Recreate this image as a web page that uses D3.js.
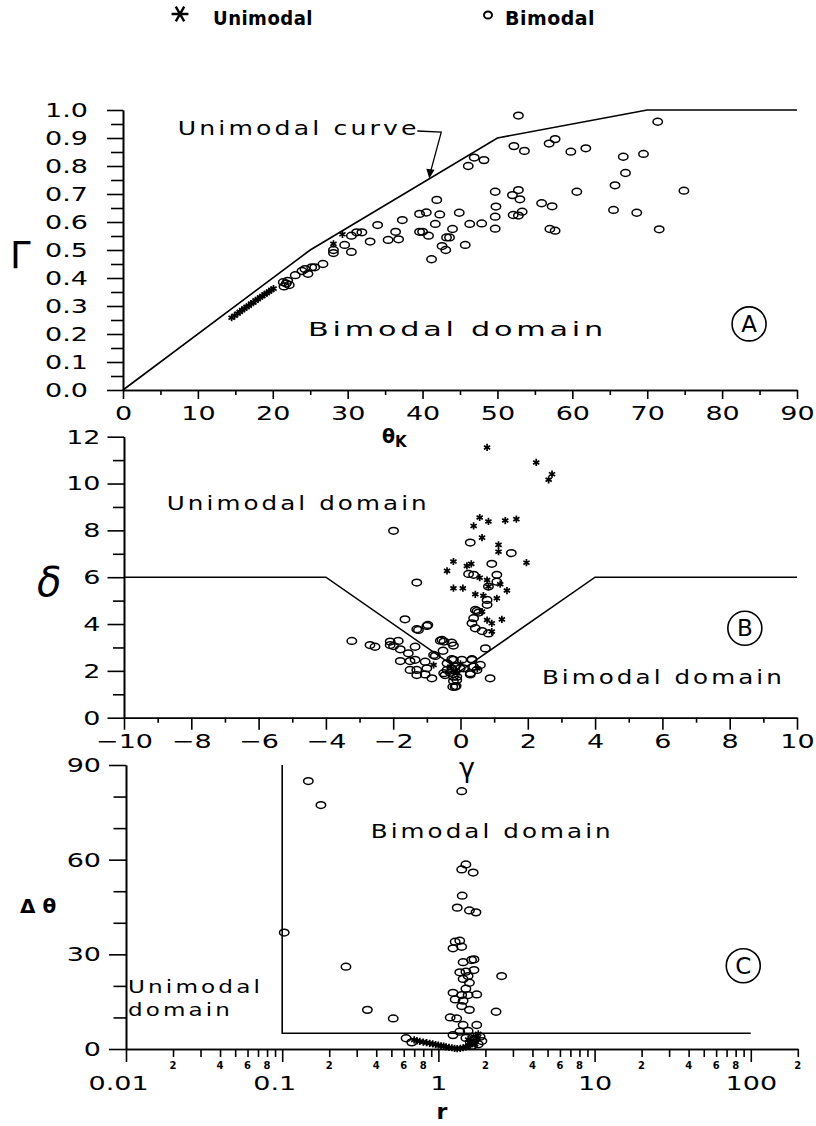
<!DOCTYPE html>
<html>
<head>
<meta charset="utf-8">
<script src="https://cdn.jsdelivr.net/npm/d3@7"></script>
<style>
body{margin:0;background:#fff;}
svg{display:block;}
text{font-family:"DejaVu Sans",sans-serif;fill:#000;}
</style>
</head>
<body>
<div id="chart"></div>
<script>
// ---------- data ----------
// Panel A: theta_K vs Gamma
var thetaTicks=[0,10,20,30,40,50,60,70,80,90];
var thetaMinor=[5,15,25,35,45,55,65,75,85];
var gammaTicks=[0,0.1,0.2,0.3,0.4,0.5,0.6,0.7,0.8,0.9,1.0];
var gammaMinor=[0.05,0.15,0.25,0.35,0.45,0.55,0.65,0.75,0.85,0.95];
var curveA=[[0,0],[25,0.5],[50,0.9],[70,1.0],[90,1.0]];
var starsA=[[14.5,0.258],[14.9,0.265],[15.3,0.273],[15.6,0.279],[15.9,0.286],[16.2,0.29],[16.5,0.297],[16.8,0.301],[17.1,0.309],[17.4,0.312],[17.7,0.32],[18.0,0.324],[18.3,0.331],[18.6,0.335],[18.9,0.342],[19.2,0.346],[19.5,0.352],[19.8,0.357],[20.1,0.362],[28.1,0.522],[29.3,0.556]];
var circlesA=[[21.4,0.385],[21.5,0.37],[21.8,0.38],[22.0,0.39],[22.2,0.375],[23.0,0.41],[23.9,0.425],[24.3,0.432],[24.7,0.415],[25.2,0.438],[25.6,0.438],[26.7,0.45],
[28.1,0.5],[28.1,0.489],[29.6,0.518],[30.5,0.551],[30.5,0.493],[31.2,0.563],[31.9,0.563],[33.0,0.53],[34.0,0.589],[35.4,0.536],[36.4,0.565],[36.8,0.538],[37.3,0.607],[39.6,0.629],[39.6,0.565],
[40.5,0.634],[42.3,0.627],[41.9,0.679],[44.9,0.633],[41.7,0.593],[44.0,0.575],[40.0,0.565],[40.8,0.551],[43.2,0.545],[43.6,0.545],[42.6,0.514],[43.1,0.5],[41.2,0.467],[45.7,0.518],[46.3,0.593],[47.9,0.595],
[46.1,0.8],[46.9,0.83],[48.2,0.821],[49.7,0.708],[49.8,0.655],[49.7,0.619],[49.7,0.576],[52.8,0.98],[52.2,0.871],[53.6,0.854],[52.0,0.696],[52.8,0.714],[53.0,0.681],[52.1,0.625],[52.8,0.623],[53.3,0.637],
[56.9,0.88],[57.7,0.896],[59.8,0.851],[61.8,0.863],[55.9,0.667],[57.3,0.656],[57.0,0.575],[57.7,0.569],[60.6,0.708],[65.7,0.731],[65.5,0.643],[66.8,0.833],[67.1,0.775],[68.6,0.633],[69.5,0.843],[71.4,0.958],[71.6,0.574],[74.9,0.712]];

// Panel B: gamma vs delta
var gTicks=[-10,-8,-6,-4,-2,0,2,4,6,8,10];
var gMinor=[-9,-7,-5,-3,-1,1,3,5,7,9];
var dTicks=[0,2,4,6,8,10,12];
var dMinor=[1,3,5,7,9,11];
var curveB=[[-10,6],[-4,6],[0,2],[4,6],[10,6]];
var starsB=[[0.79,11.54],[2.25,10.9],[2.72,10.4],[2.62,10.16],[0.57,8.55],[0.39,8.19],[0.83,8.38],[1.33,8.42],[1.66,8.48],[0.64,7.69],[1.13,7.38],[1.13,7.09],[1.96,6.62],[-0.21,6.67],[-0.4,6.27],[0.19,6.48],[0.32,6.57],[0.57,5.98],[0.79,5.88],[0.83,5.6],[1.18,5.7],[1.38,5.43],[-0.21,5.53],[0.07,5.53],[0.44,5.27],[0.68,5.21],[1.08,5.1],[0.64,4.53],[0.79,4.17],[0.93,4.03],[1.23,4.2],[0.93,3.68],[-0.8,2.25],[-0.3,2.18],[-0.2,2.0],[-0.1,1.9],[0.0,2.3],[0.5,2.1]];
var circlesB=[[-1.99,7.98],[-1.3,5.77],[-1.65,4.2],[-1.3,3.78],[-0.97,3.96],[-1.25,3.75],[-1.0,3.92],[-3.23,3.28],[-2.69,3.1],[-2.54,3.03],[-2.09,3.25],[-1.85,3.28],[-2.09,3.1],[-1.99,3.06],[-1.79,2.92],[-1.35,3.03],[-1.55,2.75],[-1.79,2.42],[-1.5,2.42],[-1.35,2.47],[-1.05,2.39],[-1.5,2.04],[-1.3,2.04],[-1.0,2.11],[-1.3,1.82],[-1.05,1.85],[-0.85,1.68],
[-0.6,3.29],[-0.49,3.25],[-0.26,3.2],[-0.21,3.08],[-0.55,3.32],[-0.52,2.86],[-0.75,2.64],[-0.8,2.68],[-0.26,2.5],[0.04,2.47],[0.34,2.5],[-0.4,2.04],[-0.26,2.11],[-0.16,2.18],[-0.46,1.82],[-0.21,1.75],[-0.11,1.75],[-0.21,1.57],[-0.11,1.61],[-0.23,1.32],[-0.13,1.35],[0.09,2.11],[0.29,1.9],
[0.39,4.25],[0.34,4.03],[0.44,3.82],[0.49,4.56],[0.29,7.48],[1.51,7.03],[0.93,6.57],[0.24,6.14],[0.39,6.1],[1.08,6.1],[1.08,5.81],[0.83,5.6],[0.79,5.03],[0.79,4.82],[0.44,4.6],[0.54,4.49],[0.64,3.7],[0.83,3.6],[0.74,2.96],[0.88,1.68],
[-0.4,2.32],[-0.21,2.47],[0.34,2.47],[-0.01,2.11],[0.39,2.18],[0.59,2.25],[0.49,2.04],[-0.5,1.9],[-0.3,1.92],[0.29,1.85],[-0.16,1.32]];

// Panel C: r vs delta theta
var rTicks=[0.01,0.1,1,10,100];
var rMinor=[0.02,0.03,0.04,0.05,0.06,0.07,0.08,0.09,0.2,0.3,0.4,0.5,0.6,0.7,0.8,0.9,2,3,4,5,6,7,8,9,20,30,40,50,60,70,80,90,200];
var rMinorLabels=[0.02,0.04,0.06,0.08,0.2,0.4,0.6,0.8,2,4,6,8,20,40,60,80,200];
var dtTicks=[0,30,60,90];
var dtMinor=[10,20,40,50,70,80];
var boundC=[[0.1,90],[0.1,5],[100,5]];
var circlesC=[[0.147,84.9],[0.177,77.3],[0.103,36.9],[0.256,26.1],[0.351,12.4],[0.514,9.7],[0.621,3.4],[0.675,2.1],[1.41,81.7],[1.5,58.5],[1.41,56.9],[1.67,55.9],[1.42,48.6],[1.32,44.8],[1.58,43.9],[1.74,43.3],[1.28,34.0],[1.37,34.3],[1.24,31.9],[1.41,32.4],[1.44,27.5],[1.63,28.2],[1.69,28.4],[1.69,25.0],[1.37,24.3],[1.5,24.5],[2.54,23.1],[1.44,22.2],[1.55,23.1],[1.58,21.0],[1.5,19.1],[1.24,17.8],[1.41,17.1],[1.55,17.1],[1.76,17.3],[1.28,15.7],[1.44,15.3],[1.41,13.6],[1.58,12.4],[2.34,11.8],[1.19,10.0],[1.31,9.7],[1.44,7.6],[1.76,7.6],[1.37,5.5],[1.55,5.7],[1.24,4.4],[1.85,3.9],[1.7,3.0],[1.6,2.0],[1.8,1.5],[1.65,1.0],[1.9,2.5],[1.5,3.5]];
var starsC=[[0.7,2.9],[0.73,2.6],[0.76,2.4],[0.8,2.2],[0.84,2.0],[0.88,1.8],[0.92,1.6],[0.96,1.4],[1.0,1.2],[1.04,1.0],[1.08,0.9],[1.12,0.7],[1.17,0.5],[1.22,0.4],[1.27,0.2],[1.32,0.1],[1.38,0.2],[1.44,0.4],[1.5,0.7],[1.55,1.0],[1.6,1.3],[1.65,1.7],[1.7,2.2],[1.74,2.8],[1.78,3.4],[1.6,2.6],[1.68,4.0],[1.8,4.8],[1.55,3.0],[1.72,1.5]];

// ---------- setup ----------
var W=816,H=1126;
var svg=d3.select("#chart").append("svg").attr("width",W).attr("height",H);
svg.append("rect").attr("width",W).attr("height",H).attr("fill","#fff");

var starSym=d3.symbol(d3.symbolAsterisk,36);

//widen glyphs the way the old plotter font looks
function widen(sel,k){
  sel.each(function(){
    var w=this.getComputedTextLength();
    d3.select(this).attr("textLength",w*k).attr("lengthAdjust","spacingAndGlyphs");
  });
}
function styleAxis(g,size){
  g.attr("font-family","DejaVu Sans").attr("font-size",size);
  g.select(".domain").attr("stroke","#000").attr("stroke-width",1.6);
  g.selectAll(".tick line").attr("stroke","#000").attr("stroke-width",1.6);
  g.selectAll(".tick text").attr("fill","#000").call(widen,1.35);
}
function drawLine(g,pts,xs,ys){
  g.append("path").datum(pts)
   .attr("d",d3.line().x(function(d){return xs(d[0]);}).y(function(d){return ys(d[1]);}))
   .attr("fill","none").attr("stroke","#000").attr("stroke-width",1.6);
}
function drawCircles(g,pts,xs,ys){
  g.selectAll(null).data(pts).enter().append("ellipse")
   .attr("cx",function(d){return xs(d[0]);}).attr("cy",function(d){return ys(d[1]);})
   .attr("rx",4.7).attr("ry",3.4)
   .attr("fill","none").attr("stroke","#000").attr("stroke-width",1.5);
}
function drawStars(g,pts,xs,ys){
  g.selectAll(null).data(pts).enter().append("path")
   .attr("d",starSym)
   .attr("transform",function(d){return "translate("+xs(d[0])+","+ys(d[1])+")";})
   .attr("fill","none").attr("stroke","#000").attr("stroke-width",1.7);
}
function label(g,x,y,str,size,len){
  var t=g.append("text").attr("x",x).attr("y",y).attr("font-size",size).text(str);
  if(len) t.attr("letter-spacing",2.5).attr("textLength",len).attr("lengthAdjust","spacingAndGlyphs");
  return t;
}
function circled(g,x,y,letter){
  g.append("circle").attr("cx",x).attr("cy",y).attr("r",17)
   .attr("fill","none").attr("stroke","#000").attr("stroke-width",1.6);
  g.append("text").attr("x",x).attr("y",y+8).attr("text-anchor","middle")
   .attr("font-size",23).text(letter);
}

// ---------- legend ----------
var leg=svg.append("g");
leg.append("path").attr("d",d3.symbol(d3.symbolAsterisk,200))
   .attr("transform","translate(180,14) rotate(90)")
   .attr("fill","none").attr("stroke","#000").attr("stroke-width",2.4);
label(leg,213,25,"Unimodal",19,100).attr("font-weight","bold").attr("letter-spacing",0.5);
leg.append("ellipse").attr("cx",488).attr("cy",15).attr("rx",4).attr("ry",3.6)
   .attr("fill","none").attr("stroke","#000").attr("stroke-width",2);
label(leg,505,25,"Bimodal",19,90).attr("font-weight","bold").attr("letter-spacing",0.5);

// ---------- panel A ----------
var xA=d3.scaleLinear().domain([0,90]).range([123,797]);
var yA=d3.scaleLinear().domain([0,1]).range([390,110]);
var gA=svg.append("g");
gA.append("g").attr("transform","translate(0,390)")
  .call(d3.axisBottom(xA).tickValues(thetaMinor).tickSize(5).tickSizeOuter(0).tickFormat(""))
  .call(styleAxis,20);
gA.append("g").attr("transform","translate(0,390)")
  .call(d3.axisBottom(xA).tickValues(thetaTicks).tickSize(9).tickSizeOuter(0).tickPadding(7).tickFormat(d3.format("d")))
  .call(styleAxis,20);
gA.append("g").attr("transform","translate(123,0)")
  .call(d3.axisLeft(yA).tickValues(gammaMinor).tickSize(12).tickSizeOuter(0).tickFormat(""))
  .call(styleAxis,20);
gA.append("g").attr("transform","translate(123,0)")
  .call(d3.axisLeft(yA).tickValues(gammaTicks).tickSize(16).tickSizeOuter(0).tickPadding(19).tickFormat(d3.format(".1f")))
  .call(styleAxis,20);
drawLine(gA,curveA,xA,yA);
drawCircles(gA,circlesA,xA,yA);
drawStars(gA,starsA,xA,yA);
label(gA,xA(7.3),yA(0.911),"Unimodal curve",20,242);
gA.append("path")
  .attr("d",d3.line()([[xA(39.3),yA(0.925)],[xA(42.5),yA(0.921)],[xA(40.9),yA(0.763)]]))
  .attr("fill","none").attr("stroke","#000").attr("stroke-width",1.3);
gA.append("path")
  .attr("d",d3.line()([[xA(40.9),yA(0.755)],[xA(40.5),yA(0.79)],[xA(41.6),yA(0.787)]])+"Z")
  .attr("fill","#000");
label(gA,xA(24.7),yA(0.193),"Bimodal domain",20,299);
circled(gA,xA(83.6),yA(0.236),"A");
gA.append("text").attr("x",10).attr("y",268).attr("font-size",37).text("Γ");
var tk=gA.append("text").attr("x",382).attr("y",443).attr("font-weight","bold");
tk.append("tspan").attr("font-size",19).text("θ");
tk.append("tspan").attr("font-size",15).attr("dy",4).text("K");

// ---------- panel B ----------
var xB=d3.scaleLinear().domain([-10,10]).range([124,797]);
var yB=d3.scaleLinear().domain([0,12]).range([717.7,436.7]);
var gB=svg.append("g");
gB.append("g").attr("transform","translate(0,717.7)")
  .call(d3.axisBottom(xB).tickValues(gMinor).tickSize(5).tickSizeOuter(0).tickFormat(""))
  .call(styleAxis,20);
gB.append("g").attr("transform","translate(0,717.7)")
  .call(d3.axisBottom(xB).tickValues(gTicks).tickSize(12).tickSizeOuter(0).tickPadding(4)
        .tickFormat(function(d){return d<0?"\u2212"+(-d):String(d);}))
  .call(styleAxis,20);
gB.append("g").attr("transform","translate(124,0)")
  .call(d3.axisLeft(yB).tickValues(dMinor).tickSize(11).tickSizeOuter(0).tickFormat(""))
  .call(styleAxis,20);
gB.append("g").attr("transform","translate(124,0)")
  .call(d3.axisLeft(yB).tickValues(dTicks).tickSize(16.5).tickSizeOuter(0).tickPadding(7).tickFormat(d3.format("d")))
  .call(styleAxis,20);
drawLine(gB,curveB,xB,yB);
drawCircles(gB,circlesB,xB,yB);
drawStars(gB,starsB,xB,yB);
label(gB,xB(-8.73),yB(8.88),"Unimodal domain",20,263);
label(gB,xB(2.42),yB(1.43),"Bimodal domain",20,243);
circled(gB,xB(8.45),yB(3.82),"B");
gB.append("text").attr("x",37).attr("y",596).attr("font-size",40).attr("font-style","italic").text("δ");
gB.append("text").attr("x",467).attr("y",777).attr("font-size",27).attr("text-anchor","middle").text("γ");

// ---------- panel C ----------
var xC=d3.scaleLog().domain([0.01,200]).range([126,797.8]);
var yC=d3.scaleLinear().domain([0,90]).range([1049,765]);
var gC=svg.append("g");
gC.append("g").attr("transform","translate(0,1049)")
  .call(d3.axisBottom(xC).tickValues(rMinor).tickSize(8).tickSizeOuter(0).tickFormat(""))
  .call(styleAxis,20);
gC.append("g").attr("transform","translate(0,1049)")
  .call(d3.axisBottom(xC).tickValues(rTicks).tickSize(13).tickSizeOuter(0).tickPadding(14)
        .tickFormat(function(d){return d<1?String(d):d3.format("d")(d);}))
  .call(styleAxis,20)
  .selectAll(".tick text").attr("dx",function(d){return d<1?-8:0;});
gC.selectAll(".minlab").data(rMinorLabels).enter().append("text").attr("class","minlab")
  .attr("x",function(d){return xC(d);}).attr("y",1068.5).attr("text-anchor","middle")
  .attr("font-size",10).attr("font-weight","bold")
  .text(function(d){return String(Math.round(d/Math.pow(10,Math.floor(Math.log10(d)+1e-9))));});
gC.append("g").attr("transform","translate(126,0)")
  .call(d3.axisLeft(yC).tickValues(dtMinor).tickSize(12.5).tickSizeOuter(0).tickFormat(""))
  .call(styleAxis,20);
gC.append("g").attr("transform","translate(126,0)")
  .call(d3.axisLeft(yC).tickValues(dtTicks).tickSize(17).tickSizeOuter(0).tickPadding(8).tickFormat(d3.format("d")))
  .call(styleAxis,20);
drawLine(gC,boundC,xC,yC);
drawCircles(gC,circlesC,xC,yC);
drawStars(gC,starsC,xC,yC);
label(gC,xC(0.369),yC(66.8),"Bimodal domain",20,243);
label(gC,xC(0.0103),yC(17.6),"Unimodal",18.5,135);
label(gC,xC(0.0103),yC(10.6),"domain",18.5,105);
circled(gC,xC(89.5),yC(26.4),"C");
gC.append("text").attr("x",20).attr("y",913).attr("font-size",20).attr("font-weight","bold").text("Δ θ");
gC.append("text").attr("x",442).attr("y",1119).attr("font-size",22).attr("font-weight","bold").attr("text-anchor","middle").text("r");
</script>
</body>
</html>
